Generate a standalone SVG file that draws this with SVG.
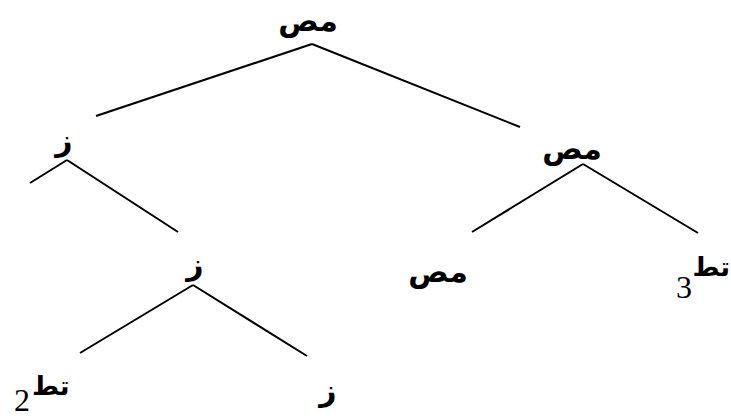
<svg xmlns="http://www.w3.org/2000/svg" width="731" height="420" viewBox="0 0 731 420">
<style>
.t{font-family:"DejaVu Sans","Noto Sans",sans-serif;font-size:30px;fill:#000;font-weight:bold}
.s{font-size:26px}
.d{font-family:"Liberation Serif",serif;font-size:32px;fill:#000}
.e{stroke:#000;stroke-width:2;fill:none}
</style>
<rect width="731" height="420" fill="#fff"/>
<g id="connectors">
<line class="e" x1="312" y1="44" x2="96" y2="116"/>
<line class="e" x1="312" y1="44" x2="520" y2="127"/>
<line class="e" x1="67" y1="160" x2="30" y2="183"/>
<line class="e" x1="67" y1="160" x2="178" y2="232"/>
<line class="e" x1="583" y1="164" x2="472" y2="232"/>
<line class="e" x1="583" y1="164" x2="698" y2="233"/>
<line class="e" x1="193" y1="285" x2="80" y2="353"/>
<line class="e" x1="193" y1="285" x2="307" y2="356"/>
</g>
<g id="root"><text class="t" x="308" y="31" text-anchor="middle">مص</text></g>
<g id="z1"><text class="t" x="64" y="151" text-anchor="middle">ز</text></g>
<g id="m2"><text class="t" x="572" y="159" text-anchor="middle">مص</text></g>
<g id="z2"><text class="t" x="195" y="275" text-anchor="middle">ز</text></g>
<g id="m3"><text class="t" x="438" y="282" text-anchor="middle">مص</text></g>
<g id="t3"><text class="t s" x="730" y="276" text-anchor="end">تط</text><text class="d" x="676" y="298">3</text></g>
<g id="t2"><text class="t s" x="32" y="395">تط</text><text class="d" x="14" y="411">2</text></g>
<g id="z3"><text class="t" x="328" y="401" text-anchor="middle">ز</text></g>
</svg>
